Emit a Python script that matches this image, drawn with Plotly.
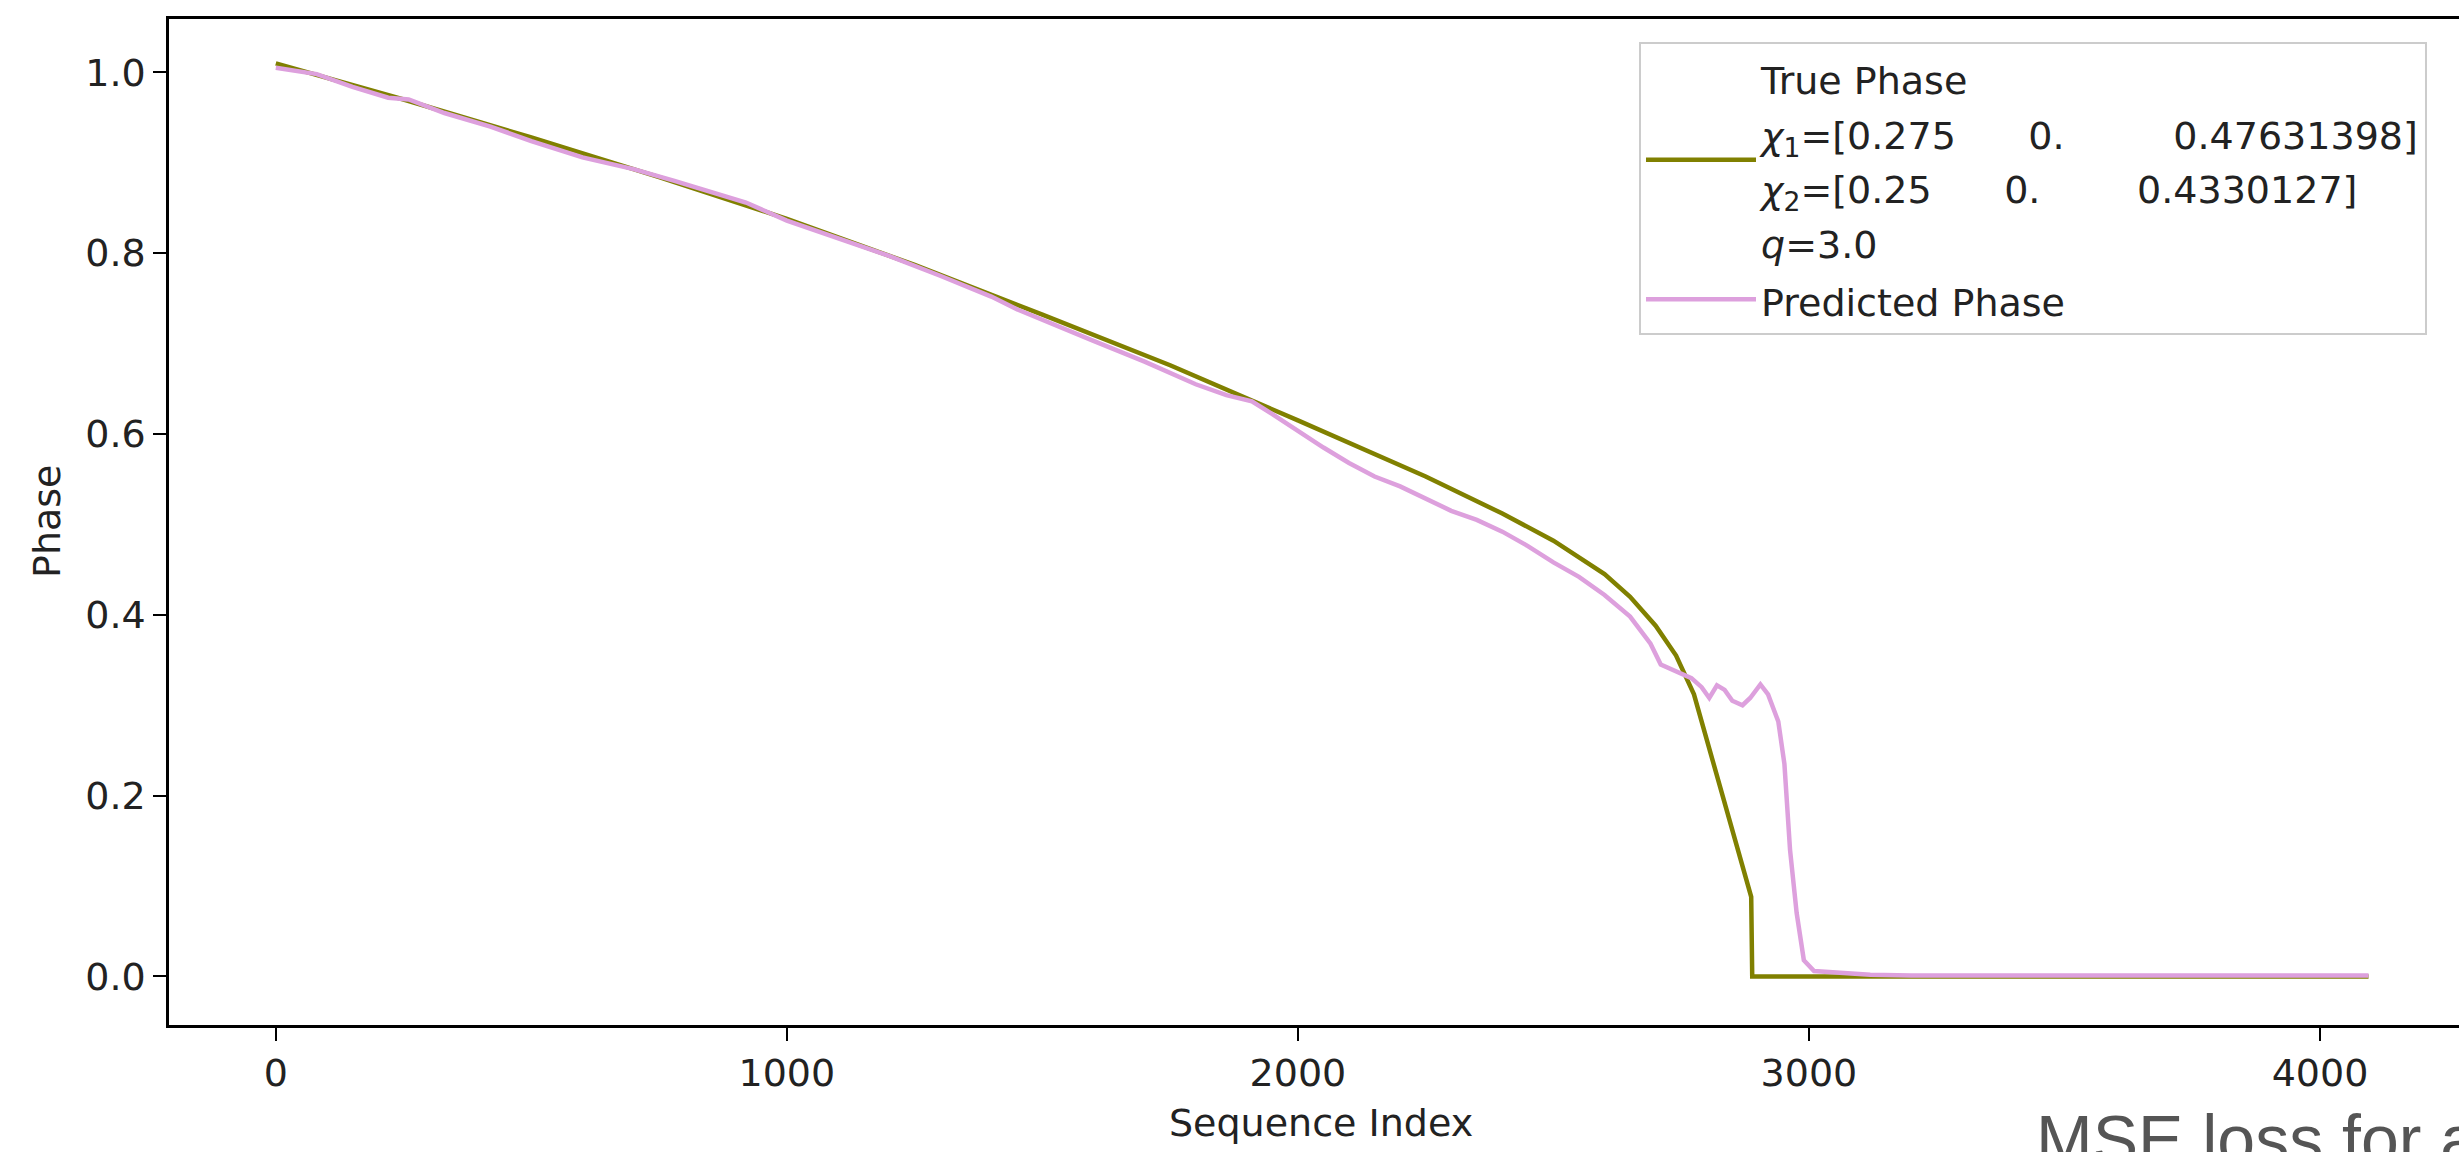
import plotly.graph_objects as go

# ---- data ----
true_x = [0, 250, 500, 750, 1000, 1250, 1500, 1750, 2000, 2250, 2400, 2500, 2600,
          2650, 2700, 2740, 2775, 2887, 2889, 4095]
true_y = [1.010, 0.970, 0.928, 0.884, 0.838, 0.787, 0.732, 0.676, 0.615, 0.553, 0.512,
          0.482, 0.445, 0.420, 0.388, 0.355, 0.312, 0.088, 0.0, 0.0]

pred_x = [0, 80, 150, 220, 260, 330, 420, 500, 600, 700, 780, 860, 920, 1000, 1100,
          1200, 1300, 1400, 1450, 1500, 1600, 1700, 1800, 1860, 1910, 1950, 2000, 2050,
          2100, 2150, 2200, 2250, 2300, 2350, 2400, 2450, 2500, 2550, 2600, 2650, 2690,
          2710, 2740, 2770, 2790, 2805, 2820, 2835, 2850, 2870, 2885, 2905, 2920, 2940,
          2952, 2963, 2976, 2990, 3010, 3060, 3120, 3200, 4095]
pred_y = [1.005, 0.998, 0.984, 0.972, 0.970, 0.955, 0.940, 0.924, 0.906, 0.893, 0.880,
          0.866, 0.856, 0.836, 0.816, 0.797, 0.775, 0.752, 0.738, 0.726, 0.703, 0.680,
          0.655, 0.643, 0.636, 0.622, 0.603, 0.585, 0.568, 0.553, 0.542, 0.528, 0.515,
          0.505, 0.492, 0.476, 0.458, 0.442, 0.422, 0.398, 0.368, 0.345, 0.338, 0.330,
          0.320, 0.308, 0.322, 0.317, 0.305, 0.300, 0.308, 0.323, 0.312, 0.282, 0.235,
          0.140, 0.070, 0.018, 0.006, 0.004, 0.002, 0.001, 0.001]

x_ticks = [0, 1000, 2000, 3000, 4000]
y_ticks = [0.0, 0.2, 0.4, 0.6, 0.8, 1.0]

W, H = 2459, 1152
L, R, T, B = 169, 0, 19, 127
FONT = "DejaVu Sans"
FS = 38
LEG_FS = 42
INK = "#222222"

NB = "\u00a0"
chi1 = "[0.275" + NB * 6 + "0." + NB * 9 + "0.47631398]"
chi2 = "[0.25" + NB * 6 + "0." + NB * 8 + "0.4330127]"


def sized(s):
    return '<span style="font-size:%dpx">%s</span>' % (FS, s)


true_label = "<br>".join([
    sized("True Phase"),
    sized("<i>χ</i><sub>1</sub>=" + chi1),
    sized("<i>χ</i><sub>2</sub>=" + chi2),
    sized("<i>q</i>=3.0"),
])
pred_label = sized("Predicted Phase")

fig = go.Figure()
fig.add_trace(go.Scatter(x=true_x, y=true_y, mode="lines", name=true_label,
                         line=dict(color="#808000", width=4.5)))
fig.add_trace(go.Scatter(x=pred_x, y=pred_y, mode="lines", name=pred_label,
                         line=dict(color="#DDA0DD", width=4.5)))

fig.update_layout(
    width=W, height=H,
    margin=dict(l=L, r=R, t=T, b=B, pad=0),
    paper_bgcolor="white", plot_bgcolor="white",
    font=dict(family=FONT, size=FS, color=INK),
    showlegend=True,
    legend=dict(x=(1639 - L) / (W - L - R), y=(H - B - 42) / (H - T - B),
                xanchor="left", yanchor="top",
                bgcolor="rgba(255,255,255,0.85)", bordercolor="#cccccc", borderwidth=2,
                font=dict(family=FONT, size=LEG_FS, color=INK),
                itemwidth=110, tracegroupgap=8),
    xaxis=dict(range=[-209, 4272], tickvals=x_ticks, ticktext=[str(v) for v in x_ticks],
               showgrid=False, zeroline=False, showline=True, linecolor="black",
               linewidth=2.5, mirror=True, ticks="outside", ticklen=13, tickwidth=2,
               tickcolor="black", tickfont=dict(family=FONT, size=FS, color=INK)),
    yaxis=dict(range=[-0.0537, 1.059], tickvals=y_ticks,
               ticktext=["%.1f" % v for v in y_ticks],
               showgrid=False, zeroline=False, showline=True, linecolor="black",
               linewidth=2.5, mirror=False, ticks="outside", ticklen=13, tickwidth=2,
               tickcolor="black", tickfont=dict(family=FONT, size=FS, color=INK)),
)

PW = W - L - R
PH = H - T - B
fig.add_annotation(text="Sequence Index", xref="paper", yref="paper",
                   x=(1321 - L) / PW, y=(H - B - 1123) / PH, xanchor="center",
                   yanchor="middle", showarrow=False,
                   font=dict(family=FONT, size=FS, color=INK))
fig.add_annotation(text="Phase", xref="paper", yref="paper",
                   x=(47 - L) / PW, y=0.5, xanchor="center", yanchor="middle",
                   textangle=-90, showarrow=False,
                   font=dict(family=FONT, size=FS, color=INK))
fig.add_annotation(text="MSE loss for a", xref="paper", yref="paper",
                   x=(2034 - L) / PW, y=(H - B - 1099) / PH, xanchor="left",
                   yanchor="top", showarrow=False,
                   font=dict(family="Liberation Sans", size=68, color="#555555"))

fig.write_html("out.html")
